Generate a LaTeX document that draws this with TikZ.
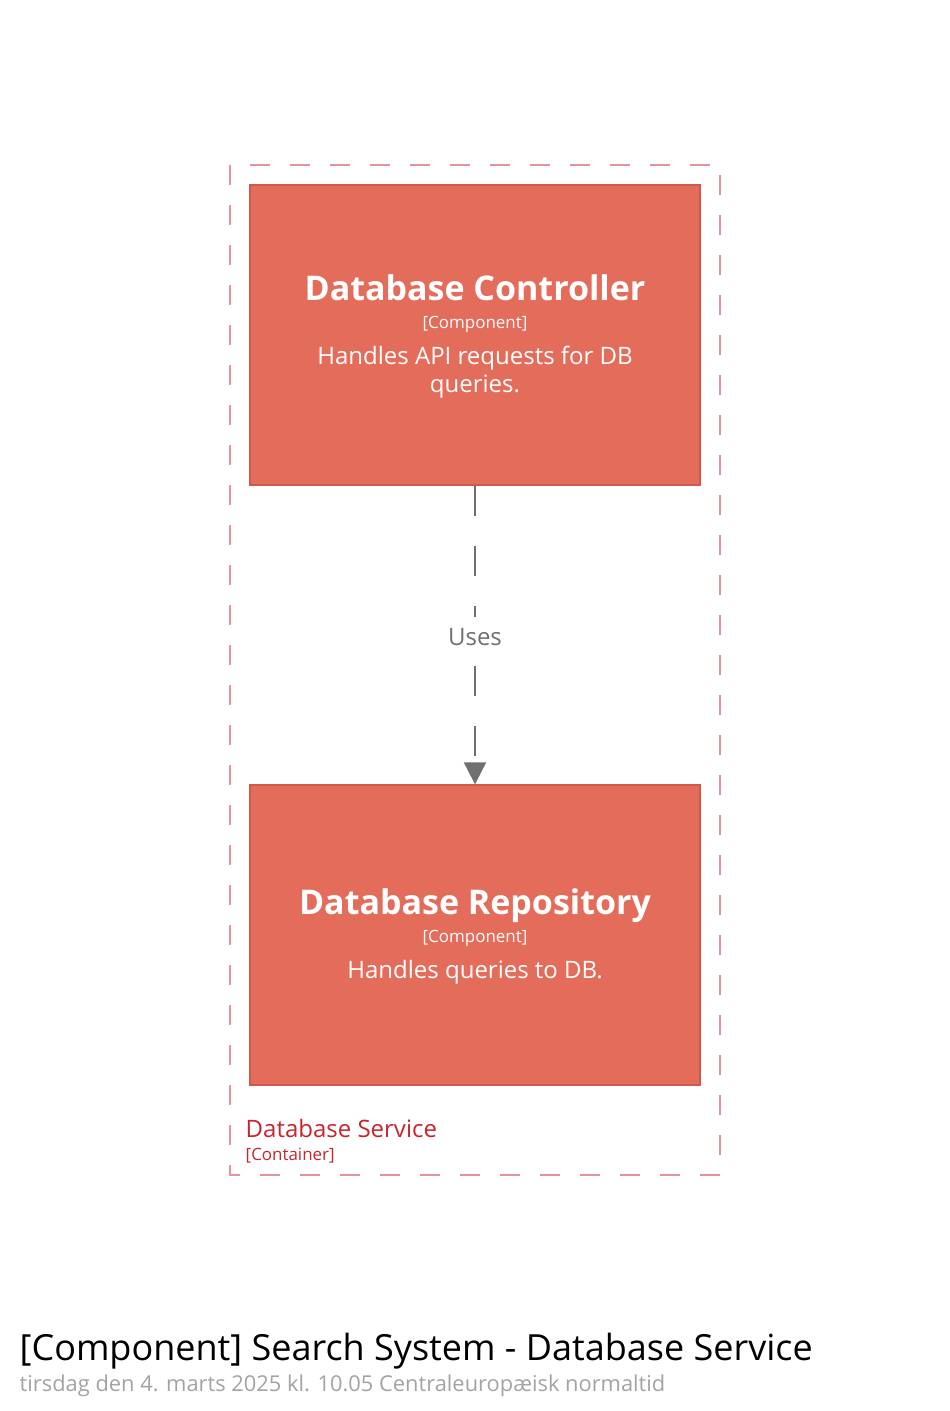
\documentclass[tikz,border=0pt]{standalone}
\usepackage{fontspec}
\setmainfont{Open Sans}
\usetikzlibrary{positioning, arrows.meta}
\definecolor{compfill}{HTML}{E46C5A}
\definecolor{compline}{HTML}{CF5A4A}
\definecolor{contline}{HTML}{E3959B}
\definecolor{contlabel}{HTML}{C9242C}
\definecolor{relgray}{HTML}{707070}
\definecolor{dategray}{HTML}{A3A3A3}

\begin{document}
\begin{tikzpicture}
  [x=0.75pt, y=-0.75pt,
  component/.style={rectangle, draw=compline, fill=compfill, line width=1pt,
  minimum width=337.5pt, minimum height=225pt, inner sep=0pt},
  compname/.style={anchor=base, text=white, font=\fontsize{25.5}{30}\selectfont\bfseries},
  comptag/.style={anchor=base, text=white, font=\fontsize{12.7}{15}\selectfont},
  compdesc/.style={anchor=base, text=white, font=\fontsize{18}{21}\selectfont},
  boundary/.style={draw=contline, line width=1.5pt, dash pattern=on 15pt off 15pt},
  relation/.style={draw=relgray, line width=1.5pt, dash pattern=on 22.5pt off 22.5pt,
  -{Triangle[width=16.5pt, length=16.5pt]}},
  rellabel/.style={fill=white, text=relgray, minimum height=30pt, inner sep=1pt,
  font=\fontsize{18}{22}\selectfont}]

  \useasboundingbox (0,0) rectangle (950,1411);

  \coordinate (bnw) at (230,165);
  \coordinate (bse) at (720,1175);
  \draw [boundary] (bnw) rectangle (bse);

  \node [component] (ctrl) at (475,335) {};
  \node [component, below=224pt of ctrl] (repo) {};

  \node [compname] (ctrlname) at (475,300) {Database Controller};
  \node [comptag] (ctrltag) at (475,328) {[Component]};
  \node [compdesc] (ctrldesc) at (475,364) {Handles API requests for DB};
  \node [compdesc] (ctrldesc2) at (475,392) {queries.};

  \node [compname] (reponame) at (475,914) {Database Repository};
  \node [comptag] (repotag) at (475,942) {[Component]};
  \node [compdesc] (repodesc) at (475,978) {Handles queries to DB.};

  \path [relation] (ctrl) -- (repo)
    node [rellabel, pos=0.5, yshift=-1.5pt] (uses) {Uses};

  \node [anchor=base west, text=contlabel, font=\fontsize{18}{22}\selectfont]
    (contname) at (241,1137) {Database Service};
  \node [anchor=base west, text=contlabel, font=\fontsize{12.7}{15}\selectfont]
    (conttag) at (241,1160) {[Container]};

  \node [anchor=base west, text=black, font=\fontsize{27}{32}\selectfont]
    (title) at (15,1360) {[Component] Search System - Database Service};
  \node [anchor=base west, text=dategray, font=\fontsize{16.4}{20}\selectfont]
    (subtitle) at (15,1391) {tirsdag den 4. marts 2025 kl. 10.05 Centraleuropæisk normaltid};
\end{tikzpicture}
\end{document}
